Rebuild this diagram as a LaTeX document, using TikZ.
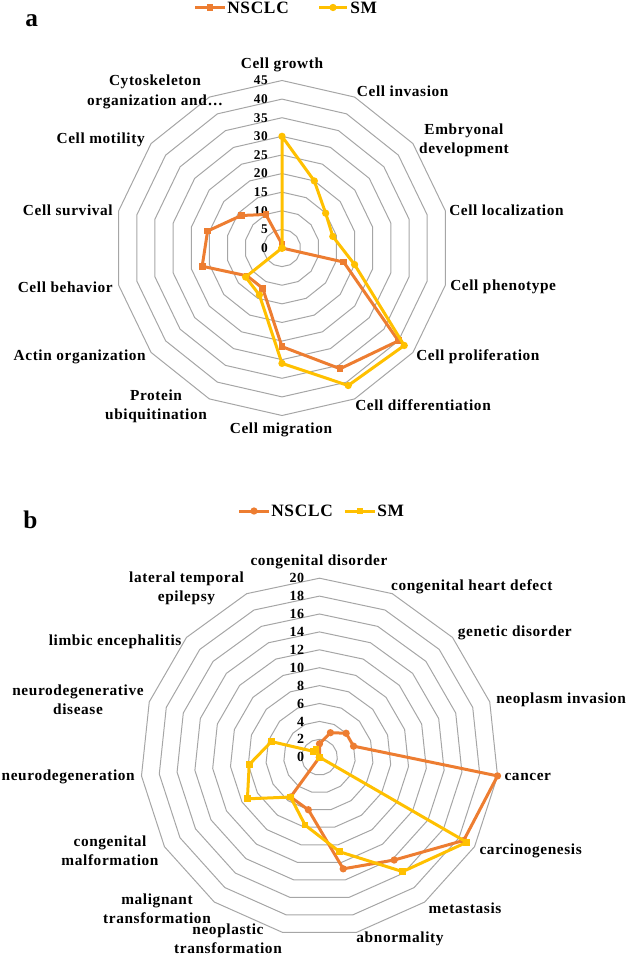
\documentclass[tikz,border=0pt]{standalone}
\usepackage{fontspec}
\setmainfont{Liberation Serif}[LetterSpace=4]
\definecolor{ornge}{RGB}{237,125,49}
\definecolor{gold}{RGB}{255,192,0}
\definecolor{gridc}{RGB}{166,166,166}
\begin{document}
\begin{tikzpicture}[x=0.75pt,y=-0.75pt,
  gridline/.style={draw=gridc, line width=0.75pt},
  serline/.style={draw=#1, line width=2.25pt, line join=round},
  sqmark/.style={rectangle, minimum size=5pt, inner sep=0pt, fill=#1},
  circmark/.style={circle, minimum size=5.5pt, inner sep=0pt, fill=#1},
  catlabel/.style={font=\bfseries\fontsize{11.5}{14.5}\selectfont, inner sep=0pt},
  ticklabel/.style={font=\bfseries\fontsize{10}{11}\selectfont, anchor=east, inner sep=0pt},
  legtext/.style={font=\bfseries\fontsize{13}{15}\selectfont, anchor=west, inner sep=0pt},
  panel/.style={font=\bfseries\fontsize{19}{20}\selectfont, anchor=base west, inner sep=0pt}]
\useasboundingbox (0,0) rectangle (625,956);

% ================= chart a =================
\def\acx{282}\def\acy{248}\def\asc{3.7222}
\foreach \v in {5,10,...,45}{
  \draw[gridline] plot[samples=15,domain=0:14,variable=\k]
    ({\acx+\v*\asc*cos(90-\k*360/14)},{\acy-\v*\asc*sin(90-\k*360/14)}) -- cycle;
}
\foreach \v [count=\i] in {0,5,...,45}
  \node[ticklabel] (ta\i) at (\acx-14,{\acy-\v*\asc}) {\v};

\foreach \val [count=\k from 0] in {1,0,0,0,17,40,36,26.5,12,12,22,20.5,14,10}
  \coordinate (aN\k) at ({\acx+\val*\asc*cos(90-\k*360/14)},{\acy-\val*\asc*sin(90-\k*360/14)});
\foreach \val [count=\k from 0] in {30,20,15,14,20,42,41,31,14,12.5,0,0,0,0}
  \coordinate (aS\k) at ({\acx+\val*\asc*cos(90-\k*360/14)},{\acy-\val*\asc*sin(90-\k*360/14)});

\draw[serline=ornge] (aN0) \foreach \k in {1,...,13}{ -- (aN\k)} -- cycle;
\foreach \k in {0,...,13} \node[sqmark=ornge] (maN\k) at (aN\k) {};
\draw[serline=gold] (aS0) \foreach \k in {1,...,13}{ -- (aS\k)} -- cycle;
\foreach \k in {0,...,13} \node[circmark=gold] (maS\k) at (aS\k) {};

\node[catlabel] (la0) at (282,65) {Cell growth};
\node[catlabel, anchor=west] (la1) at (356.7,91.7) {Cell invasion};
\node[catlabel, align=center] (la2) at (464,140) {Embryonal\\development};
\node[catlabel, anchor=west] (la3) at (449,210) {Cell localization};
\node[catlabel, anchor=west] (la4) at (450,287) {Cell phenotype};
\node[catlabel, anchor=west] (la5) at (416,357) {Cell proliferation};
\node[catlabel, anchor=west] (la6) at (355,405) {Cell differentiation};
\node[catlabel] (la7) at (281,430) {Cell migration};
\node[catlabel, align=center] (la8) at (156,406) {Protein\\ubiquitination};
\node[catlabel, anchor=east] (la9) at (146,357) {Actin organization};
\node[catlabel, anchor=east] (la10) at (113,287) {Cell behavior};
\node[catlabel, anchor=east] (la11) at (113,210) {Cell survival};
\node[catlabel, anchor=east] (la12) at (145,140) {Cell motility};
\node[catlabel, align=center] (la13) at (155,92) {Cytoskeleton\\organization and…};

% legend a
\coordinate (lgaN1) at (195,7.5); \coordinate (lgaN2) at (225,7.5);
\draw[serline=ornge] (lgaN1) -- (lgaN2);
\node[sqmark=ornge] (lgaNm) at (210,7.5) {};
\node[legtext] (lgaNt) at (227,7.5) {NSCLC};
\coordinate (lgaS1) at (319,7.5); \coordinate (lgaS2) at (347,7.5);
\draw[serline=gold] (lgaS1) -- (lgaS2);
\node[circmark=gold] (lgaSm) at (333,7.5) {};
\node[legtext] (lgaSt) at (350,7.5) {SM};
\node[panel] (pa) at (25,27) {a};

% ================= chart b =================
\def\bcx{319.5}\def\bcy{757.2}\def\bsc{8.95}
\foreach \v in {2,4,...,20}{
  \draw[gridline] plot[samples=16,domain=0:15,variable=\k]
    ({\bcx+\v*\bsc*cos(90-\k*24)},{\bcy-\v*\bsc*sin(90-\k*24)}) -- cycle;
}
\foreach \v [count=\i] in {0,2,...,20}
  \node[ticklabel, font=\bfseries\fontsize{10.5}{11}\selectfont] (tb\i) at (\bcx-15,{\bcy-\v*\bsc}) {\v};

\foreach \val [count=\k from 0] in {1.5,3,4,4,20,18.6,14.2,12.75,6,5.5,0,0,0,0,0}
  \coordinate (bN\k) at ({\bcx+\val*\bsc*cos(90-\k*24)},{\bcy-\val*\bsc*sin(90-\k*24)});
\foreach \val [count=\k from 0] in {0,0,0,0,0,19,15.8,10.8,7.75,5.5,9.3,7.9,5.65,1,1}
  \coordinate (bS\k) at ({\bcx+\val*\bsc*cos(90-\k*24)},{\bcy-\val*\bsc*sin(90-\k*24)});

\draw[serline=ornge] (bN0) \foreach \k in {1,...,14}{ -- (bN\k)} -- cycle;
\foreach \k in {0,...,14} \node[circmark=ornge] (mbN\k) at (bN\k) {};
\draw[serline=gold] (bS0) \foreach \k in {1,...,14}{ -- (bS\k)} -- cycle;
\foreach \k in {0,...,14} \node[sqmark=gold] (mbS\k) at (bS\k) {};

\node[catlabel] (lb0) at (319,562) {congenital disorder};
\node[catlabel, anchor=east] (lb1) at (552.7,586.7) {congenital heart defect};
\node[catlabel, anchor=west] (lb2) at (457.7,632.7) {genetic disorder};
\node[catlabel, anchor=west] (lb3) at (496,700) {neoplasm invasion};
\node[catlabel, anchor=west] (lb4) at (504.3,776.7) {cancer};
\node[catlabel, anchor=west] (lb5) at (479.3,850.7) {carcinogenesis};
\node[catlabel, anchor=west] (lb6) at (428.3,908) {metastasis};
\node[catlabel] (lb7) at (400,939.3) {abnormality};
\node[catlabel, align=center] (lb8) at (228,939) {neoplastic\\transformation};
\node[catlabel, align=center] (lb9) at (157,908.5) {malignant\\transformation};
\node[catlabel, align=center] (lb10) at (110,850.5) {congenital\\malformation};
\node[catlabel, anchor=east] (lb11) at (135,776.7) {neurodegeneration};
\node[catlabel, align=center] (lb12) at (78,700) {neurodegenerative\\disease};
\node[catlabel, anchor=east] (lb13) at (181.7,641.7) {limbic encephalitis};
\node[catlabel, align=center] (lb14) at (186.5,588) {lateral temporal\\epilepsy};

% legend b
\coordinate (lgbN1) at (239,511); \coordinate (lgbN2) at (269,511);
\draw[serline=ornge] (lgbN1) -- (lgbN2);
\node[circmark=ornge] (lgbNm) at (254,511) {};
\node[legtext] (lgbNt) at (271,511) {NSCLC};
\coordinate (lgbS1) at (345,511); \coordinate (lgbS2) at (375,511);
\draw[serline=gold] (lgbS1) -- (lgbS2);
\node[sqmark=gold] (lgbSm) at (360,511) {};
\node[legtext] (lgbSt) at (377,511) {SM};
\node[panel] (pb) at (23,528) {b};
\end{tikzpicture}
\end{document}
